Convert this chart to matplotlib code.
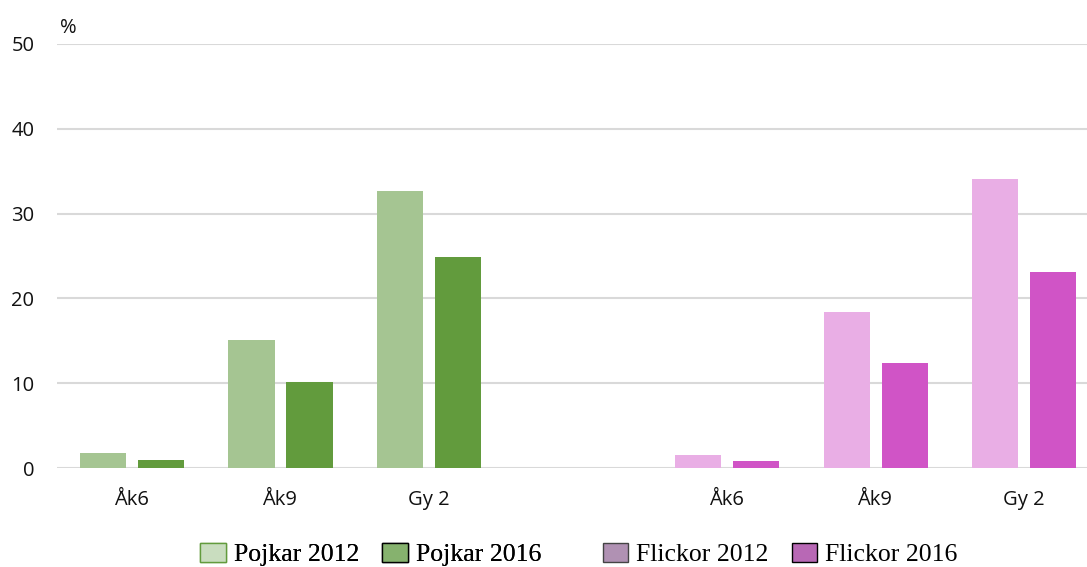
import matplotlib.pyplot as plt
import matplotlib.patches as mpatches
import numpy as np

# data
categories = ['Åk6', 'Åk9', 'Gy 2', '', 'Åk6', 'Åk9', 'Gy 2']
pojkar_2012 = [1.8, 15.1, 32.7]
pojkar_2016 = [0.9, 10.1, 24.9]
flickor_2012 = [1.5, 18.4, 34.1]
flickor_2016 = [0.8, 12.4, 23.1]
yticks = [0, 10, 20, 30, 40, 50]

fig = plt.figure(figsize=(10.87, 5.67), dpi=100)
# axes runs a bit past the right edge like the original
ax = fig.add_axes([0.0521, 0.1746, 0.958, 0.7478])

w = 0.31
xp = np.arange(3)
xf = np.arange(4, 7)
ax.bar(xp - 0.19, pojkar_2012, w, color='#A5C592')
ax.bar(xp + 0.2, pojkar_2016, w, color='#629B3D')
ax.bar(xf - 0.19, flickor_2012, w, color='#E9AEE5')
ax.bar(xf + 0.2, flickor_2016, w, color='#D054C6')

ax.set_xlim(-0.5, 6.5)
ax.set_ylim(0, 50)
ax.set_yticks(yticks)
ax.set_xticks(range(len(categories)))
ax.set_xticklabels(categories)
ax.yaxis.grid(True, color='#D9D9D9', linewidth=1.5)
ax.set_axisbelow(True)
for s in ax.spines.values():
    s.set_visible(False)
ax.tick_params(length=0, labelsize=14.5, colors='#111111')
ax.tick_params(axis='y', pad=16)
ax.tick_params(axis='x', pad=16)
for lab in ax.get_xticklabels() + ax.get_yticklabels():
    lab.set_family('Open Sans')

fig.text(0.055, 0.942, '%', fontsize=14.5, family='Open Sans', color='#111111', va='baseline')

# legend (two groups)
h1 = [mpatches.Patch(facecolor='#C9DDBF', edgecolor='#629B3D', label='Pojkar 2012'),
      mpatches.Patch(facecolor='#86B26E', edgecolor='black', label='Pojkar 2016')]
h2 = [mpatches.Patch(facecolor='#B091B3', edgecolor='#444444', label='Flickor 2012'),
      mpatches.Patch(facecolor='#B868B5', edgecolor='black', label='Flickor 2016')]
lp = dict(loc='center', frameon=False, ncol=2, handlelength=1.0, handleheight=0.75,
          handletextpad=0.3, columnspacing=0.9,
          prop={'family': 'Liberation Serif', 'size': 18.5})
leg1 = fig.legend(handles=h1, bbox_to_anchor=(0.341, 0.022), **lp)
fig.add_artist(leg1)
fig.legend(handles=h2, bbox_to_anchor=(0.7176, 0.022), **lp)

plt.savefig('out.png', dpi=100)
